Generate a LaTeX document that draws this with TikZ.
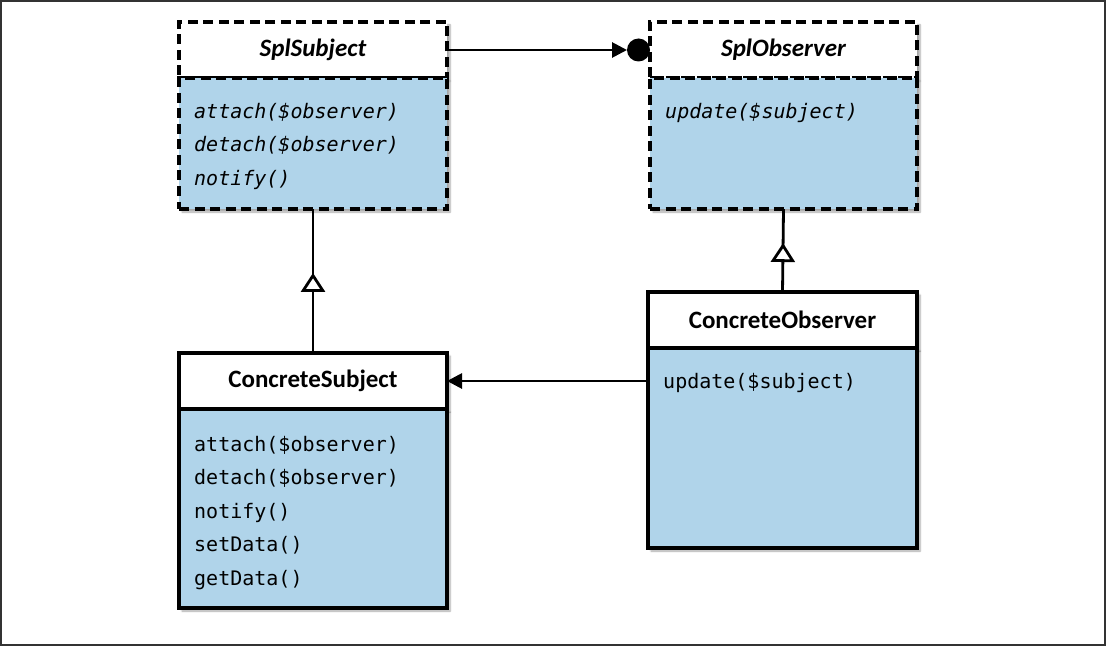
\documentclass[tikz,border=0pt]{standalone}
\usepackage{fontspec}
\setmainfont{Carlito}
\setmonofont{DejaVu Sans Mono}
\usetikzlibrary{positioning,arrows.meta,decorations.markings,shadows.blur}
\definecolor{bodyblue}{RGB}{176,212,234}
\definecolor{framegray}{RGB}{51,51,51}

\begin{document}
\begin{tikzpicture}[x=1pt, y=-1pt,
  cls/.style={draw, line width=3.3pt, outer sep=0pt, inner sep=0pt, minimum width=268pt,
    blur shadow={shadow xshift=3pt, shadow yshift=-3pt, shadow opacity=35, shadow blur steps=6}},
  iface/.style={dash pattern=on 10pt off 5.5pt},
  assoc/.style={line width=2.8pt, -{Triangle[length=15pt, width=15pt]}},
  inherit/.style={line width=2.8pt, postaction={decorate}, decoration={markings,
    mark=at position #1 with {\arrow{Triangle[open, fill=white, length=19pt, width=24pt]}}}}]
\tikzstyle{hdr}=[cls, fill=white, minimum height=56pt, font=\bfseries\fontsize{25}{30}\selectfont]
\tikzstyle{members}=[cls, fill=bodyblue]
\tikzstyle{ops}=[anchor=north west, inner sep=0pt, align=left, font=\ttfamily\fontsize{20}{33.5}\selectfont]
\tikzstyle{opsit}=[ops, font=\ttfamily\itshape\fontsize{20}{33.5}\selectfont]
\tikzstyle{dot}=[circle, fill=black, minimum size=23pt, inner sep=0pt, outer sep=0pt]
\useasboundingbox (0,0) rectangle (1107,647);
\draw[framegray, line width=1.5pt] (1,1) rectangle (1105,645);
% interfaces
\node[hdr, iface] (subj) at (313,50) {\itshape SplSubject};
\node[members, iface, minimum height=131pt, below=0pt of subj] (subjbody) {};
\node[opsit] (subjops) at ([xshift=15pt, yshift=-25pt]subjbody.north west) {attach(\$observer)\\detach(\$observer)\\notify()};
\node[hdr, iface, minimum width=267pt] (obs) at (783.5,50) {\itshape SplObserver};
\node[members, iface, minimum width=267pt, minimum height=131pt, below=0pt of obs] (obsbody) {};
\node[opsit] (obsops) at ([xshift=15pt, yshift=-25pt]obsbody.north west) {update(\$subject)};
\node[dot, left=0pt of obs] (obsdot) {};
% concrete classes
\node[hdr] (csubj) at (313,381) {ConcreteSubject};
\node[members, minimum height=199pt, below=0pt of csubj] (csubjbody) {};
\node[ops] (csubjops) at ([xshift=15pt, yshift=-27pt]csubjbody.north west) {attach(\$observer)\\detach(\$observer)\\notify()\\setData()\\getData()};
\node[hdr, minimum width=269pt] (cobs) at (782.5,320) {ConcreteObserver};
\node[members, minimum width=269pt, minimum height=200pt, below=0pt of cobs] (cobsbody) {};
\node[ops] (cobsops) at ([xshift=15pt, yshift=-25pt]cobsbody.north west) {update(\$subject)};
% connectors
\draw[assoc] (subj.east) -- (obsdot.west);
\draw[assoc] (csubj.east -| cobsbody.west) -- (csubj.east);
\draw[inherit=0.556] (csubj.north) -- (subjbody.south);
\draw[inherit=0.59] (cobs.north) -- (obsbody.south);
\end{tikzpicture}
\end{document}
